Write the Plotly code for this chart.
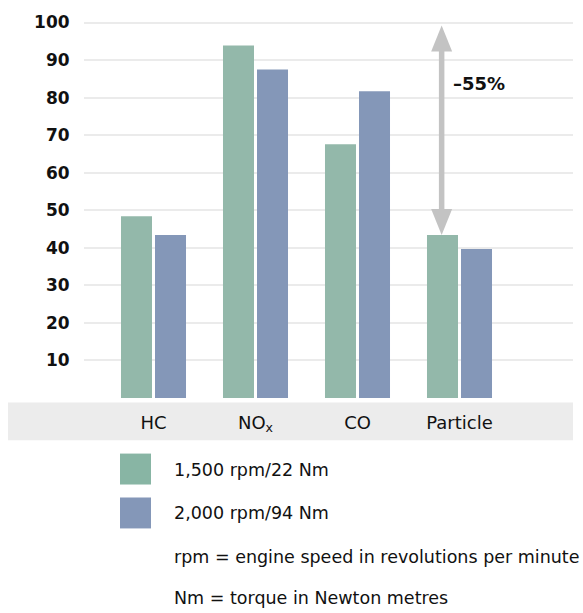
import plotly.graph_objects as go

categories = ["HC", "NO<sub>x</sub>", "CO", "Particle"]
series_names = ["1,500 rpm/22 Nm", "2,000 rpm/94 Nm"]
values_1500 = [48.4, 93.9, 67.6, 43.4]
values_2000 = [43.4, 87.5, 81.7, 39.7]
y_ticks = [10, 20, 30, 40, 50, 60, 70, 80, 90, 100]
reduction_label = "–55%"
notes = ["rpm = engine speed in revolutions per minute", "Nm = torque in Newton metres"]

bar_colors = ["#93b8aa", "#8497b8"]
legend_colors = ["#88b5a4", "#8497b8"]
FONT = "DejaVu Sans"

W, H = 583, 613
L, R, T, B = 84, 10, 14.5, 214.7
pw, ph = W - L - R, H - T - B


def px_x(p):
    return (p - L) / pw


def px_y(p):
    return (H - B - p) / ph


xs = list(range(len(categories)))
fig = go.Figure()
fig.add_trace(go.Bar(x=xs, y=values_1500, name=series_names[0], marker_color=bar_colors[0],
                     marker_line_width=0, showlegend=False))
fig.add_trace(go.Bar(x=xs, y=values_2000, name=series_names[1], marker_color=bar_colors[1],
                     marker_line_width=0, showlegend=False))

shapes = []
# grey category band
shapes.append(dict(type="rect", xref="paper", yref="paper", x0=px_x(8), x1=px_x(573),
                   y0=px_y(402.7), y1=px_y(440.7), fillcolor="#ececec", line_width=0, layer="below"))

# reduction arrow on Particle
arrow_x = 2.825
top_val = 99.2
low_val = values_1500[3]
shapes.append(dict(type="line", xref="x", yref="y", x0=arrow_x, x1=arrow_x,
                   y0=low_val + 5, y1=top_val - 5, line=dict(color="#c3c3c3", width=5.5)))
shapes.append(dict(type="path", xref="x", yref="y", xsizemode="pixel", ysizemode="pixel",
                   xanchor=arrow_x, yanchor=top_val, path="M0,0 L-10.5,-26 L10.5,-26 Z",
                   fillcolor="#c3c3c3", line_width=0))
shapes.append(dict(type="path", xref="x", yref="y", xsizemode="pixel", ysizemode="pixel",
                   xanchor=arrow_x, yanchor=low_val, path="M0,0 L-10.5,26 L10.5,26 Z",
                   fillcolor="#c3c3c3", line_width=0))

annotations = [dict(x=2.914, y=83.8, xref="x", yref="y", text="<b>" + reduction_label + "</b>",
                    showarrow=False, xanchor="left", yanchor="middle",
                    font=dict(family=FONT, size=18, color="#111"))]

# legend
sq = [(454, 485), (498, 529)]
text_y = [470, 514]
for i in range(2):
    shapes.append(dict(type="rect", xref="paper", yref="paper", x0=px_x(120), x1=px_x(151),
                       y0=px_y(sq[i][1]), y1=px_y(sq[i][0]), fillcolor=legend_colors[i], line_width=0))
    annotations.append(dict(x=px_x(172), y=px_y(text_y[i]), xref="paper", yref="paper",
                            text=series_names[i], showarrow=False, xanchor="left", yanchor="middle",
                            font=dict(family=FONT, size=17.5, color="#111")))
for j, ny in enumerate([558, 599]):
    annotations.append(dict(x=px_x(172), y=px_y(ny), xref="paper", yref="paper",
                            text=notes[j], showarrow=False, xanchor="left", yanchor="middle",
                            font=dict(family=FONT, size=17.5, color="#111")))

fig.update_layout(
    width=W, height=H, margin=dict(l=L, r=R, t=T, b=B, pad=0),
    paper_bgcolor="white", plot_bgcolor="white",
    barmode="group", bargap=0.3333, bargroupgap=0.088,
    shapes=shapes, annotations=annotations,
    xaxis=dict(range=[-(153.5 - L) / 102, (573 - 153.5) / 102], tickvals=xs, ticktext=categories,
               showgrid=False, zeroline=False, showline=False, ticks="outside", ticklen=8,
               tickcolor="rgba(0,0,0,0)", tickfont=dict(family=FONT, size=18, color="#111")),
    yaxis=dict(range=[0, 102], tickvals=y_ticks, showgrid=True, gridcolor="#ebebeb", gridwidth=1.7,
               zeroline=False, showline=False, ticks="outside", ticklen=10, tickcolor="rgba(0,0,0,0)",
               tickfont=dict(family=FONT, size=17, color="#111", weight="bold")),
    showlegend=False,
)

fig.write_html("out.html")
